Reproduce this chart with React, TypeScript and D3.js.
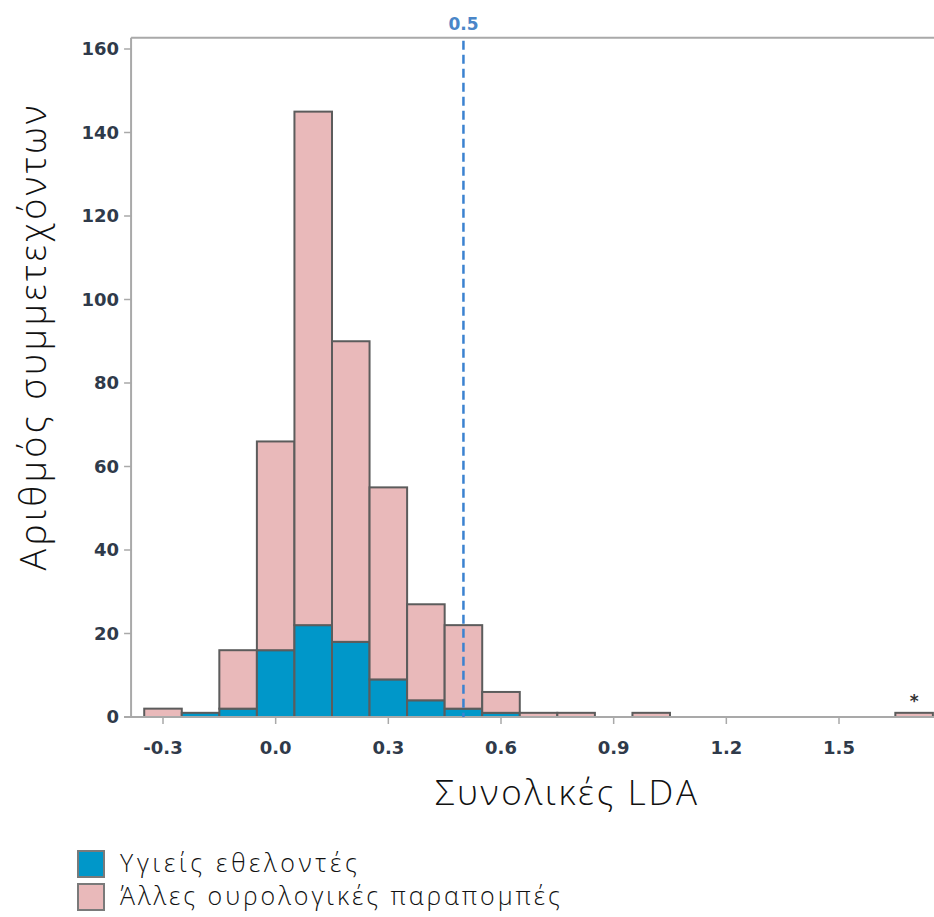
import { useRef, useEffect } from 'react';
import * as d3 from 'd3';

// Histogram of total LDA, bin width 0.1
const binCenters = [-0.3, -0.2, -0.1, 0.0, 0.1, 0.2, 0.3, 0.4, 0.5, 0.6, 0.7, 0.8, 0.9, 1.0, 1.1, 1.2, 1.3, 1.4, 1.5, 1.6, 1.7];
const healthy = [0, 1, 2, 16, 22, 18, 9, 4, 2, 1, 0, 0, 0, 0, 0, 0, 0, 0, 0, 0, 0];
const otherReferrals = [2, 0, 14, 50, 123, 72, 46, 23, 20, 5, 1, 1, 0, 1, 0, 0, 0, 0, 0, 0, 1];
const xTicks = [-0.3, 0.0, 0.3, 0.6, 0.9, 1.2, 1.5];
const yTicks = [0, 20, 40, 60, 80, 100, 120, 140, 160];
const cutoff = 0.5;
const outlierBin = 1.7;
const seriesNames = ['Υγιείς εθελοντές', 'Άλλες ουρολογικές παραπομπές'];

export default function App() {
  const ref = useRef<SVGSVGElement | null>(null);

  useEffect(() => {
    document.body.style.margin = '0';
    const svg = d3.select(ref.current);
    svg.selectAll('*').remove();

    const W = 934;
    const blue = '#0097c9', pink = '#e9b9ba', edge = '#5c5c5c', ax = '#a9a9a9';
    const tickColor = '#2f3a4a';
    const binW = 0.1;
    const fmt = (v: number) => v.toFixed(1); // plain hyphen minus like the original

    const x = d3.scaleLinear().domain([-0.3, 1.5]).range([163, 839]);
    const y = d3.scaleLinear().domain([0, 160]).range([717, 49]);
    const left = x(-0.385), top = y(162.7), bottom = y(0);

    const g = svg.append('g');

    // frame: left axis + top border
    g.append('line').attr('x1', left).attr('x2', left).attr('y1', top).attr('y2', bottom)
      .attr('stroke', ax).attr('stroke-width', 2);
    g.append('line').attr('x1', left).attr('x2', W + 10).attr('y1', top).attr('y2', top)
      .attr('stroke', ax).attr('stroke-width', 2);

    const tickText = (s: any) => s.attr('fill', tickColor)
      .style('font-family', 'DejaVu Sans').style('font-weight', '700').style('font-size', '18px');

    // y ticks
    yTicks.forEach(t => {
      g.append('line').attr('x1', left - 7).attr('x2', left).attr('y1', y(t)).attr('y2', y(t))
        .attr('stroke', ax).attr('stroke-width', 1.5);
      tickText(g.append('text').attr('x', left - 12).attr('y', y(t)).attr('dy', '0.36em')
        .attr('text-anchor', 'end').text(t));
    });

    // x ticks
    xTicks.forEach(t => {
      g.append('line').attr('x1', x(t)).attr('x2', x(t)).attr('y1', bottom).attr('y2', bottom + 7)
        .attr('stroke', ax).attr('stroke-width', 1.5);
      tickText(g.append('text').attr('x', x(t)).attr('y', bottom + 37)
        .attr('text-anchor', 'middle').text(fmt(t)));
    });

    // bars (stacked: healthy at bottom)
    const bars = g.append('g');
    binCenters.forEach((c, i) => {
      const h = healthy[i], o = otherReferrals[i];
      const x0 = x(c - binW / 2), x1 = x(c + binW / 2);
      if (h > 0) {
        bars.append('rect').attr('x', x0).attr('width', x1 - x0)
          .attr('y', y(h)).attr('height', y(0) - y(h))
          .attr('fill', blue).attr('stroke', edge).attr('stroke-width', 2);
      }
      if (o > 0) {
        bars.append('rect').attr('x', x0).attr('width', x1 - x0)
          .attr('y', y(h + o)).attr('height', y(h) - y(h + o))
          .attr('fill', pink).attr('stroke', edge).attr('stroke-width', 2);
      }
    });

    // bottom axis line
    g.append('line').attr('x1', left - 7).attr('x2', W + 10).attr('y1', bottom).attr('y2', bottom)
      .attr('stroke', ax).attr('stroke-width', 2);

    // outlier marker
    const oi = binCenters.indexOf(outlierBin);
    g.append('text').attr('x', x(outlierBin)).attr('y', y(healthy[oi] + otherReferrals[oi]) - 6)
      .attr('text-anchor', 'middle').attr('fill', '#333')
      .style('font-family', 'DejaVu Sans').style('font-weight', '700').style('font-size', '17px')
      .text('*');

    // cutoff reference line
    g.append('line').attr('x1', x(cutoff)).attr('x2', x(cutoff)).attr('y1', top + 3).attr('y2', bottom)
      .attr('stroke', '#3b82d0').attr('stroke-width', 2.5).attr('stroke-dasharray', '9,5');
    g.append('text').attr('x', x(cutoff)).attr('y', 30)
      .attr('text-anchor', 'middle').attr('fill', '#4a86c8')
      .style('font-family', 'DejaVu Sans').style('font-weight', '700').style('font-size', '17px')
      .text(fmt(cutoff));

    // axis titles
    const titleFont = (s: any, size: number) => s
      .style('font-family', '"Open Sans", "DejaVu Sans", sans-serif')
      .style('font-weight', '300').style('font-size', size + 'px').attr('fill', '#111');
    titleFont(g.append('text')
      .attr('transform', 'translate(46,338) rotate(-90)')
      .attr('text-anchor', 'middle')
      .attr('textLength', 465).attr('lengthAdjust', 'spacing')
      .text('Αριθμός συμμετεχόντων'), 36);
    titleFont(g.append('text')
      .attr('x', 435).attr('y', 805)
      .attr('textLength', 262).attr('lengthAdjust', 'spacing')
      .text('Συνολικές LDA'), 35);

    // legend
    const legendColors = [blue, pink];
    const legendWidths = [237, 440];
    seriesNames.forEach((name, i) => {
      const ly = 851 + i * 33;
      g.append('rect').attr('x', 78).attr('y', ly).attr('width', 26).attr('height', 26)
        .attr('fill', legendColors[i]).attr('stroke', '#7a7a7a').attr('stroke-width', 2);
      titleFont(g.append('text').attr('x', 120).attr('y', ly + 21)
        .attr('textLength', legendWidths[i]).attr('lengthAdjust', 'spacing')
        .text(name), 25);
    });
  }, []);

  return <svg ref={ref} width={934} height={917} style={{ display: 'block', background: '#fff' }} />;
}
